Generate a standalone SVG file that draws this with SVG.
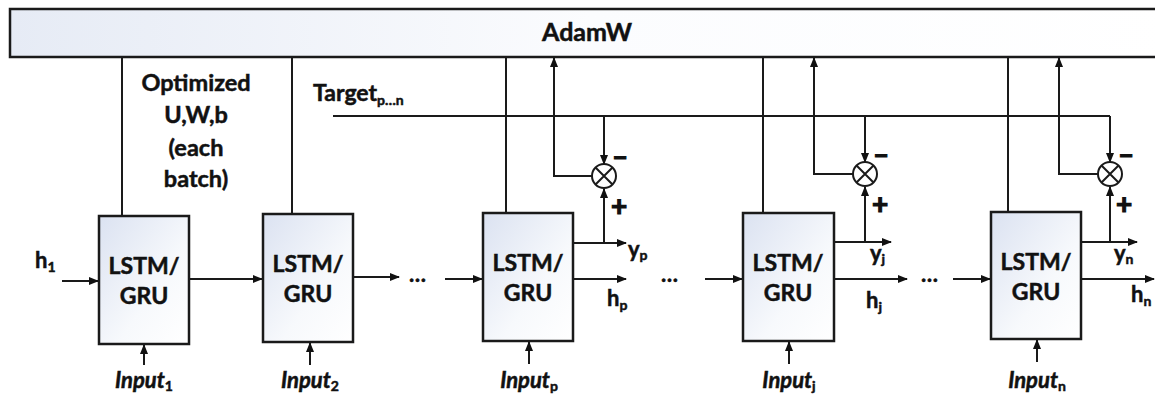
<svg xmlns="http://www.w3.org/2000/svg" width="1155" height="399" viewBox="0 0 1155 399">
<defs>
<linearGradient id="boxg" x1="0" y1="0" x2="1" y2="1">
<stop offset="0" stop-color="#dbe2f1"/>
<stop offset="0.6" stop-color="#f7f9fc"/>
<stop offset="1" stop-color="#ffffff"/>
</linearGradient>
<linearGradient id="barg" x1="0" y1="0" x2="1" y2="0">
<stop offset="0" stop-color="#e6ebf5"/>
<stop offset="0.5" stop-color="#fbfcfe"/>
<stop offset="1" stop-color="#ffffff"/>
</linearGradient>
<marker id="ah" markerWidth="10" markerHeight="10" refX="9" refY="5" orient="auto" markerUnits="userSpaceOnUse">
<path d="M0,1 L10,5 L0,9 Z" fill="#111"/>
</marker>
</defs>
<style>
.box{fill:url(#boxg);stroke:#1a1a1a;stroke-width:2.5}
.ln{fill:none;stroke:#1a1a1a;stroke-width:2}
.arr{fill:none;stroke:#1a1a1a;stroke-width:2;marker-end:url(#ah)}
.t{font-family:Lato,"Liberation Sans",sans-serif;font-weight:bold;fill:#111;stroke:#111;stroke-width:0.5}
.cell{font-size:23px;text-anchor:middle}
.lbl{font-size:22px}
.opt{font-size:23.5px;text-anchor:middle}
.inp{font-size:22px;font-style:italic;text-anchor:middle}
.sub{font-size:14px;font-style:normal}
.sgn{font-size:28px;stroke-width:1.2;text-anchor:middle}
.sum{fill:#fff;stroke:#1a1a1a;stroke-width:2}
</style>
<rect width="1155" height="399" fill="#fff"/>

<g id="adamw">
<rect x="10" y="9" width="1160" height="48" fill="url(#barg)" stroke="#1a1a1a" stroke-width="2.5"/>
<text class="t" x="587" y="41" font-size="25" text-anchor="middle">AdamW</text>
</g>

<g id="connectors">
<line class="ln" x1="122" y1="57" x2="122" y2="216"/>
<line class="ln" x1="292" y1="57" x2="292" y2="214"/>
<line class="ln" x1="506" y1="57" x2="506" y2="213"/>
<line class="ln" x1="763" y1="57" x2="763" y2="213"/>
<line class="ln" x1="1008" y1="57" x2="1008" y2="212"/>
<polyline class="ln" points="333,116 1110,116"/>
<line class="arr" x1="604" y1="116" x2="604" y2="164"/>
<line class="arr" x1="865" y1="116" x2="865" y2="162"/>
<line class="arr" x1="1110" y1="116" x2="1110" y2="162"/>
<polyline class="arr" points="592,176 554,176 554,58"/>
<polyline class="arr" points="853,174 814,174 814,58"/>
<polyline class="arr" points="1098,174 1059,174 1059,58"/>
<line class="arr" x1="604" y1="243" x2="604" y2="189"/>
<line class="arr" x1="865" y1="242" x2="865" y2="187"/>
<line class="arr" x1="1110" y1="242" x2="1110" y2="187"/>
<line class="arr" x1="573" y1="243" x2="626" y2="243"/>
<line class="arr" x1="834" y1="242" x2="891" y2="242"/>
<line class="arr" x1="1081" y1="242" x2="1137" y2="242"/>
<line class="arr" x1="62" y1="281" x2="98" y2="281"/>
<line class="arr" x1="189" y1="279" x2="262" y2="279"/>
<line class="arr" x1="353" y1="277" x2="399" y2="277"/>
<line class="arr" x1="445" y1="279" x2="482" y2="279"/>
<line class="arr" x1="573" y1="279" x2="626" y2="279"/>
<line class="arr" x1="705" y1="279" x2="742" y2="279"/>
<line class="arr" x1="834" y1="279" x2="907" y2="279"/>
<line class="arr" x1="953" y1="279" x2="990" y2="279"/>
<line class="arr" x1="1081" y1="279" x2="1154" y2="279"/>
<line class="arr" x1="144" y1="365" x2="144" y2="345"/>
<line class="arr" x1="310" y1="365" x2="310" y2="343"/>
<line class="arr" x1="529" y1="364" x2="529" y2="342"/>
<line class="arr" x1="789" y1="364" x2="789" y2="342"/>
<line class="arr" x1="1037" y1="362" x2="1037" y2="340"/>
</g>

<g id="sum-p">
<circle class="sum" cx="604" cy="176" r="12"/>
<path class="ln" d="M595.5,167.5 L612.5,184.5 M612.5,167.5 L595.5,184.5"/>
<text class="t sgn" x="620" y="166">–</text>
<text class="t sgn" x="619" y="216">+</text>
</g>
<g id="sum-j">
<circle class="sum" cx="865" cy="174" r="12"/>
<path class="ln" d="M856.5,165.5 L873.5,182.5 M873.5,165.5 L856.5,182.5"/>
<text class="t sgn" x="881" y="164">–</text>
<text class="t sgn" x="880" y="214">+</text>
</g>
<g id="sum-n">
<circle class="sum" cx="1110" cy="174" r="12"/>
<path class="ln" d="M1101.5,165.5 L1118.5,182.5 M1118.5,165.5 L1101.5,182.5"/>
<text class="t sgn" x="1126" y="164">–</text>
<text class="t sgn" x="1124" y="214">+</text>
</g>

<g id="cell-1">
<rect class="box" x="99" y="216" width="90" height="128"/>
<text class="t cell" x="144" y="274">LSTM/</text>
<text class="t cell" x="144" y="304">GRU</text>
</g>
<g id="cell-2">
<rect class="box" x="263" y="214" width="90" height="128"/>
<text class="t cell" x="308" y="272">LSTM/</text>
<text class="t cell" x="308" y="302">GRU</text>
</g>
<g id="cell-p">
<rect class="box" x="483" y="213" width="90" height="128"/>
<text class="t cell" x="528" y="271">LSTM/</text>
<text class="t cell" x="528" y="301">GRU</text>
</g>
<g id="cell-j">
<rect class="box" x="743" y="213" width="91" height="128"/>
<text class="t cell" x="788" y="271">LSTM/</text>
<text class="t cell" x="788" y="301">GRU</text>
</g>
<g id="cell-n">
<rect class="box" x="991" y="212" width="90" height="127"/>
<text class="t cell" x="1036" y="270">LSTM/</text>
<text class="t cell" x="1036" y="300">GRU</text>
</g>

<g id="labels">
<text class="t opt" x="196" y="91">Optimized</text>
<text class="t opt" x="196" y="123">U,W,b</text>
<text class="t opt" x="196" y="156">(each</text>
<text class="t opt" x="196" y="187">batch)</text>
<text class="t" font-size="23" x="313" y="101">Target<tspan class="sub" dy="4">p…n</tspan></text>
<text class="t lbl" x="35" y="268">h<tspan class="sub" dy="4">1</tspan></text>
<text class="t lbl" x="628" y="257">y<tspan class="sub" dy="3">p</tspan></text>
<text class="t lbl" x="607" y="306">h<tspan class="sub" dy="4">p</tspan></text>
<text class="t lbl" x="870" y="261">y<tspan class="sub" dy="3">j</tspan></text>
<text class="t lbl" x="866" y="308">h<tspan class="sub" dy="4">j</tspan></text>
<text class="t lbl" x="1114" y="261">y<tspan class="sub" dy="3">n</tspan></text>
<text class="t lbl" x="1131" y="302">h<tspan class="sub" dy="4">n</tspan></text>
<text class="t lbl" x="409" y="282">…</text>
<text class="t lbl" x="661" y="282">…</text>
<text class="t lbl" x="921" y="282">…</text>
<text class="t inp" x="144" y="388">Input<tspan class="sub" dy="3">1</tspan></text>
<text class="t inp" x="310" y="388">Input<tspan class="sub" dy="3">2</tspan></text>
<text class="t inp" x="529" y="388">Input<tspan class="sub" dy="3">p</tspan></text>
<text class="t inp" x="789" y="388">Input<tspan class="sub" dy="3">j</tspan></text>
<text class="t inp" x="1037" y="388">Input<tspan class="sub" dy="3">n</tspan></text>
</g>
</svg>
